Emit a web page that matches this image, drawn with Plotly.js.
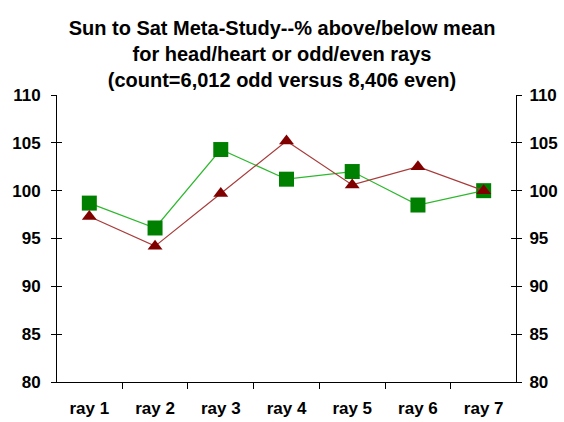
<!DOCTYPE html>
<html>
<head>
<meta charset="utf-8">
<script src="https://cdn.plot.ly/plotly-3.0.1.min.js"></script>
<style>html,body{margin:0;padding:0;background:#fff;}#chart{width:564px;height:422px;}</style>
</head>
<body>
<div id="chart"></div>
<script>
const categories = ["ray 1", "ray 2", "ray 3", "ray 4", "ray 5", "ray 6", "ray 7"];
const greenValues = [98.7, 96.1, 104.3, 101.2, 102.0, 98.5, 100.0];
const redValues = [97.3, 94.2, 99.7, 105.2, 100.6, 102.5, 100.0];
const yTicks = [80, 85, 90, 95, 100, 105, 110];
const titleLines = ["Sun to Sat Meta-Study--% above/below mean", "for head/heart or odd/even rays", "(count=6,012 odd versus 8,406 even)"];

const font = "Liberation Sans, Arial, sans-serif";

const traces = [
  {
    x: categories, y: redValues, type: "scatter", mode: "lines+markers", yaxis: "y2",
    line: {color: "#a83a3a", width: 1.2},
    marker: {symbol: "triangle-up", size: 13, color: "#800000"},
    showlegend: false, hoverinfo: "skip"
  },
  {
    x: categories, y: greenValues, type: "scatter", mode: "lines+markers",
    line: {color: "#2db82d", width: 1.2},
    marker: {symbol: "square", size: 15, color: "#008000"},
    showlegend: false, hoverinfo: "skip"
  }
];

const yCommon = {
  range: [80, 110], tickvals: yTicks, ticktext: yTicks.map(String),
  showgrid: false, zeroline: false, showline: true, linecolor: "#000", linewidth: 1,
  tickcolor: "#000", ticklen: 5, tickwidth: 1,
  tickfont: {family: font, size: 17, color: "#000", weight: "bold"}
};

const layout = {
  width: 564, height: 422,
  margin: {l: 57, r: 48, t: 95, b: 40},
  paper_bgcolor: "#fff", plot_bgcolor: "#fff",
  title: {
    text: "<b>" + titleLines.join("<br>") + "</b>",
    font: {family: font, size: 20, color: "#000"},
    xref: "container", x: 0.5, xanchor: "center",
    yref: "container", y: 0.918, yanchor: "top"
  },
  xaxis: {
    type: "category", showgrid: false, zeroline: false, showline: true,
    linecolor: "#000", linewidth: 1, ticks: "outside", tickson: "boundaries",
    ticklen: 6, tickcolor: "#000",
    tickfont: {family: font, size: 17, color: "#000", weight: "bold"},
    ticklabelstandoff: 11
  },
  yaxis: Object.assign({}, yCommon, {side: "left", ticks: "outside", mirror: "ticks", ticklabelstandoff: 7}),
  yaxis2: Object.assign({}, yCommon, {side: "right", overlaying: "y", ticks: "inside", mirror: "ticks", ticklabelstandoff: 9})
};

Plotly.newPlot("chart", traces, layout, {staticPlot: true, displayModeBar: false});
</script>
</body>
</html>
